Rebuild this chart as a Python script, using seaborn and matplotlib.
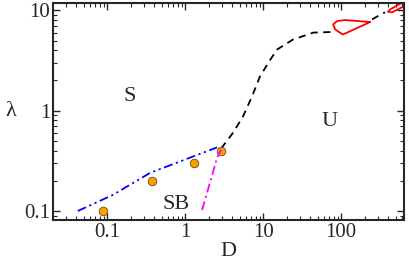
import numpy as np
import pandas as pd
import matplotlib
matplotlib.use('Agg')
import matplotlib.pyplot as plt
import seaborn as sns

# values (log-log phase diagram)
dash_D = [2.9, 4.1, 5.5, 7.2, 9.1, 12.3, 15.1, 24, 44, 70, 84]
dash_lam = [0.42, 0.60, 0.87, 1.38, 2.19, 3.2, 4.07, 5.1, 6.0, 6.07, 6.07]

dash2_D = [250, 300, 366]
dash2_lam = [8.13, 8.8, 9.55]

loop1_D = [235, 165, 112, 89, 79, 84, 97, 106, 235]
loop1_lam = [7.64, 7.82, 8.0, 7.82, 7.24, 6.46, 5.98, 5.75, 7.64]

loop2_D = [720, 623, 522, 425, 400, 451, 571, 720]
loop2_lam = [12.6, 12.0, 11.2, 10.2, 9.7, 9.55, 10.5, 11.6]

blue_D = [0.042, 0.119, 0.356, 1.27, 2.57]
blue_lam = [0.1, 0.145, 0.24, 0.35, 0.43]

magenta_D = [1.65, 2.57, 2.9]
magenta_lam = [0.102, 0.34, 0.41]

pts_D = [0.089, 0.378, 1.30, 2.9]
pts_lam = [0.1, 0.2, 0.30, 0.40]

regions = ['S', 'U', 'SB']
region_D = [0.197, 72, 0.77]
region_lam = [1.38, 0.78, 0.115]

sns.set_style('ticks')
plt.rcParams['font.family'] = 'serif'
plt.rcParams['font.serif'] = ['Liberation Serif', 'DejaVu Serif']
plt.rcParams['xtick.direction'] = 'in'
plt.rcParams['ytick.direction'] = 'in'
plt.rcParams['xtick.top'] = True
plt.rcParams['ytick.right'] = True

fig = plt.figure(figsize=(4.09, 2.61), dpi=100)
ax = fig.add_axes([0.13, 0.157, 0.858, 0.831])

line_kw = dict(sort=False, estimator=None, lw=1.3, ax=ax)
sns.lineplot(x=dash_D, y=dash_lam, color='black', linestyle=(0, (4, 3)), **line_kw)
sns.lineplot(x=dash2_D, y=dash2_lam, color='black', linestyle=(0, (4, 3)), **line_kw)
sns.lineplot(x=loop1_D, y=loop1_lam, color='red', **line_kw)
sns.lineplot(x=loop2_D, y=loop2_lam, color='red', **line_kw)
sns.lineplot(x=blue_D, y=blue_lam, color='blue',
             linestyle=(0, (5, 2, 1.2, 2, 1.2, 2)), **line_kw)
sns.scatterplot(x=pts_D, y=pts_lam, color='#f7a000', edgecolor='#6b4a10',
                linewidth=0.6, s=38, zorder=5, ax=ax)
# magenta branch ends on top of the last point
sns.lineplot(x=magenta_D, y=magenta_lam, color='magenta', zorder=6,
             linestyle=(0, (5, 2, 1.2, 2)), **line_kw)

for name, d, l in zip(regions, region_D, region_lam):
    ax.text(d, l, name, fontsize=16, ha='center', va='center')

ax.set_xscale('log')
ax.set_yscale('log')
ax.set_xlim(0.0203, 643)
ax.set_ylim(0.0813, 11.8)
ax.set_xticks([0.1, 1, 10, 100])
ax.set_xticklabels(['0.1', '1', '10', '100'])
ax.set_yticks([0.1, 1, 10])
ax.set_yticklabels(['0.1', '1', '10'])
ax.tick_params(which='major', length=5, width=1, labelsize=15, pad=2)
ax.tick_params(which='minor', length=3, width=0.8)
for sp in ax.spines.values():
    sp.set_linewidth(1.5)

ax.set_xlabel('D', fontsize=16, labelpad=0)
ax.set_ylabel('λ', fontsize=16, rotation=0, labelpad=10, va='center')

fig.savefig('out.png', dpi=100)
